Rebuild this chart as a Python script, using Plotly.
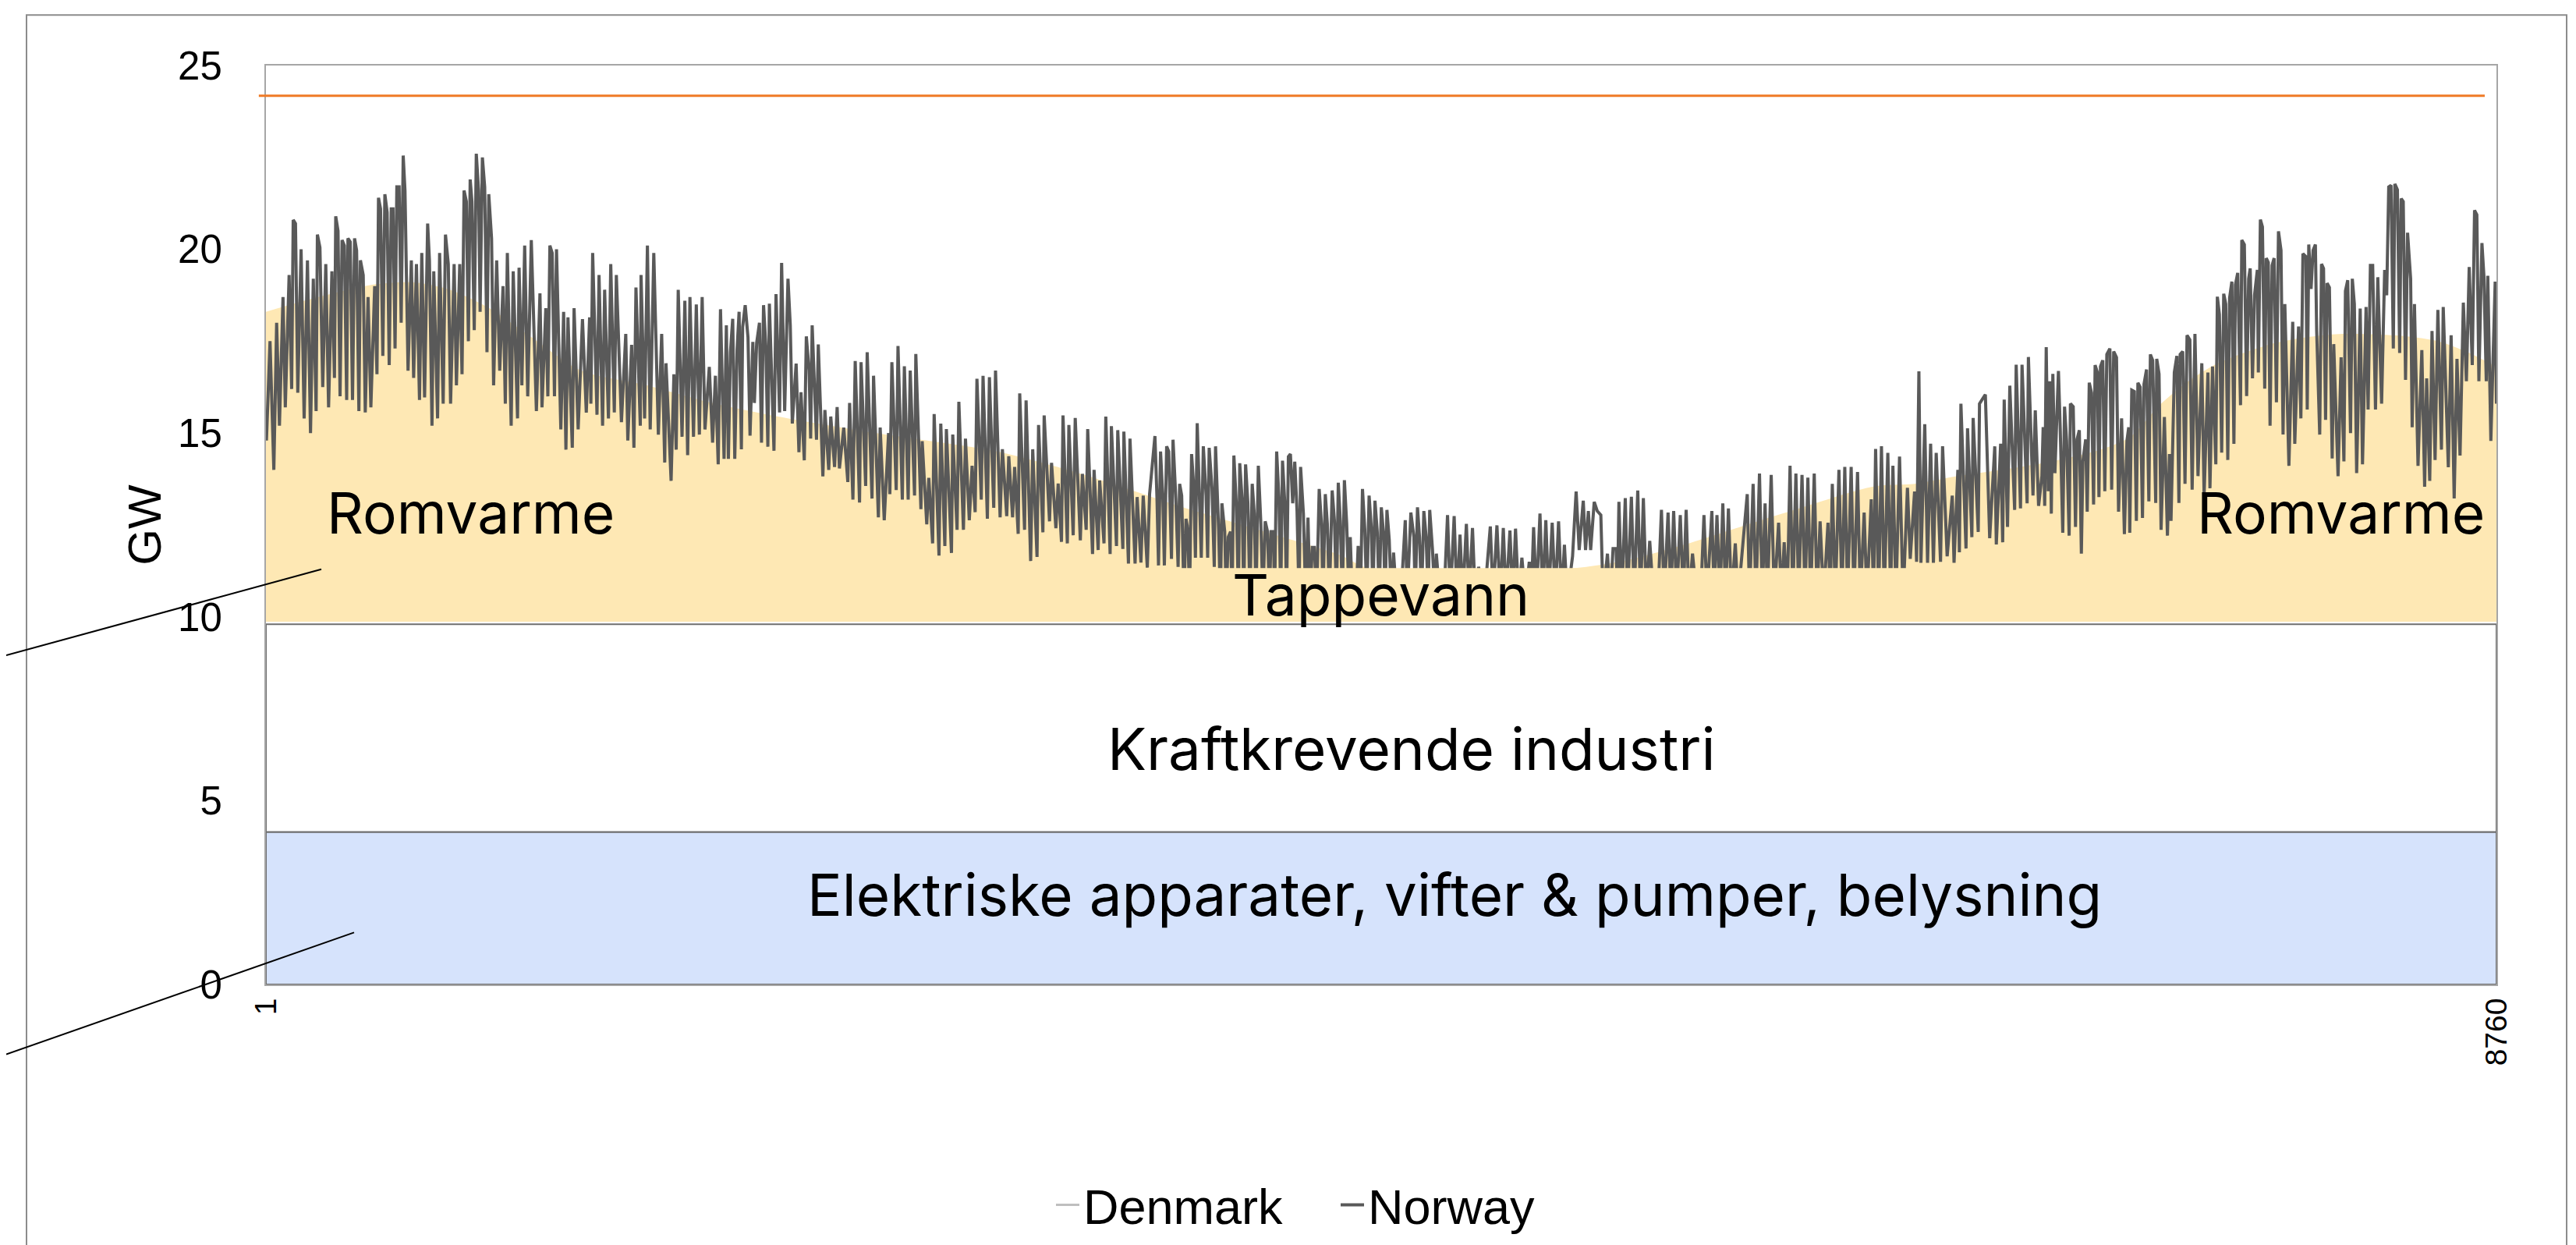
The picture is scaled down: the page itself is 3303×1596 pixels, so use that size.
import plotly.graph_objects as go

# ---------------- DATA ----------------
x_range_h = [1, 8760]
x_tick_hours = [1, 8760]
x_tick_text = ["1", "8760"]
y_range_gw = [0, 25]
y_tick_vals = [0, 5, 10, 15, 20, 25]

# stacked constant blocks (GW)
apparater_top_gw = 4.15          # Elektriske apparater, vifter & pumper, belysning
industri_top_gw = 9.8            # Kraftkrevende industri
varme_base_gw = 9.87             # bottom of heating blocks
tappevann_top_gw = 11.33         # Tappevann block top
capacity_gw = 24.18              # orange horizontal line
capacity_hours = [-27, 8714]

# Romvarme (space heating) smooth upper edge
romvarme_hours = [1, 207, 433, 582, 724, 878, 1046, 1239, 1497, 1736, 2013, 2304, 2594,
                  2871, 3175, 3439, 3594, 3787, 3994, 4220, 4329, 4700, 5142, 5342, 5568,
                  5795, 6021, 6316, 6476, 6644, 6816, 7005, 7204, 7322, 7437, 7550, 7666,
                  7896, 8126, 8359, 8530, 8647, 8760]
romvarme_top_gw = [18.3, 18.7, 19.05, 19.1, 18.9, 18.4, 17.6, 16.7, 16.3, 15.85, 15.45, 15.1,
                   14.8, 14.5, 13.95, 13.36, 13.0, 12.6, 12.17, 11.68, 11.33, 11.3, 11.33,
                   11.54, 11.96, 12.46, 12.95, 13.55, 13.62, 13.83, 14.0, 14.22, 14.55, 14.9,
                   15.76, 16.41, 16.9, 17.46, 17.69, 17.66, 17.5, 17.2, 16.8]

# Norway hourly load, read as peaks/troughs (hour, GW)
norway_hours_winter1 = [1, 3, 17, 32, 43, 54, 68, 77, 92, 102, 108, 117, 126, 139, 151, 164, 176, 187,
    198, 203, 213, 224, 236, 247, 260, 270, 275, 284, 292, 300, 309, 318, 323, 332, 341, 349, 357,
    366, 372, 383, 391, 402, 413, 428, 437, 443, 451, 460, 468, 477, 485, 493, 500, 508, 515, 524,
    532, 540, 547, 559, 572, 581, 592, 604, 613, 624, 636, 643, 653, 660, 675, 683, 697, 706, 717,
    726, 740, 749, 762, 771, 779, 788, 796, 803, 810, 819, 827, 836, 842, 851, 860, 869, 876, 887,
    895, 907, 919, 932, 941, 949, 964, 972, 989, 995, 1006, 1017, 1029, 1043, 1063, 1077, 1085,
    1100, 1108, 1116, 1125, 1134, 1142, 1159, 1170, 1179, 1187, 1204, 1211, 1227, 1244, 1259, 1272,
    1277, 1284, 1301, 1309, 1323, 1331, 1346, 1355, 1369, 1377, 1397, 1414, 1422, 1437, 1446, 1454,
    1471, 1474, 1488, 1499, 1510, 1524, 1542, 1555, 1567, 1572, 1592, 1603, 1612, 1620, 1635, 1646,
    1657, 1666, 1680, 1691, 1703, 1714, 1725, 1742]
norway_gw_winter1 = [15.5, 14.8, 17.5, 14.0, 18.0, 15.2, 18.7, 15.7, 19.3, 16.2, 20.8, 20.7, 16.1,
    20.0, 15.4, 19.7, 15.0, 19.2, 15.6, 20.4, 20.05, 16.25, 19.6, 15.7, 19.4, 16.5, 20.9, 20.5, 16.0,
    20.25, 20.1, 15.9, 20.3, 20.2, 15.9, 20.3, 19.97, 15.6, 19.7, 19.3, 15.56, 18.7, 15.7, 19.0, 16.6,
    21.4, 21.1, 17.1, 21.5, 21.0, 16.85, 21.1, 21.1, 17.3, 21.7, 21.7, 18.0, 22.55, 21.6, 16.7, 19.7,
    16.5, 19.6, 15.9, 19.9, 15.97, 20.7, 19.7, 15.2, 19.4, 15.4, 19.9, 15.8, 20.4, 19.6, 15.8, 19.6,
    16.3, 19.6, 16.6, 21.6, 21.3, 17.5, 21.9, 21.3, 17.8, 22.6, 21.6, 18.3, 22.5, 21.7, 17.2, 21.5,
    20.3, 16.3, 19.7, 16.7, 19.0, 15.8, 19.9, 15.2, 19.4, 15.4, 19.5, 16.3, 20.1, 16.0, 20.25, 15.6,
    18.8, 15.7, 18.4, 16.0, 20.1, 19.9, 16.0, 20.0, 15.1, 18.3, 14.55, 18.15, 14.6, 18.4, 15.1, 18.1,
    15.56, 18.15, 15.8, 19.9, 15.5, 19.3, 15.2, 18.9, 15.4, 19.6, 15.56, 19.3, 15.3, 17.7, 14.8, 17.4,
    14.6, 18.96, 15.2, 19.3, 15.4, 20.1, 15.1, 19.9, 14.96, 17.7, 14.2, 16.9, 13.7, 16.6, 14.55, 18.9,
    14.9, 18.6, 14.4, 18.7, 14.9, 18.5, 14.96, 18.7, 15.1, 16.8]

norway_hours_spring = [1755, 1766, 1777, 1786, 1800, 1809, 1817, 1825, 1834, 1842, 1851, 1859, 1868,
    1873, 1883, 1894, 1902, 1913, 1919, 1928, 1939, 1947, 1955, 1964, 1972, 1978, 1987, 1996, 2004,
    2018, 2026, 2038, 2051, 2060, 2068, 2083, 2094, 2102, 2115, 2123, 2134, 2140, 2146, 2157, 2163,
    2170, 2179, 2188, 2196, 2211, 2219, 2234, 2244, 2253, 2270, 2286, 2293, 2306, 2315, 2332, 2338,
    2356, 2362, 2381, 2387, 2406, 2413, 2429, 2446, 2451, 2459, 2476, 2483, 2500, 2508, 2523, 2531,
    2548, 2553, 2573, 2578, 2596, 2604, 2619, 2625, 2644, 2651, 2667, 2673, 2693, 2698, 2715, 2722,
    2740, 2748, 2763, 2774, 2786, 2793, 2810, 2817, 2834, 2842, 2859, 2866, 2884, 2893, 2910, 2918,
    2933, 2941, 2955, 2961, 2980, 2986, 3004, 3012, 3029, 3035, 3052, 3057, 3078, 3086, 3103, 3112,
    3125, 3131, 3148, 3154, 3171, 3179, 3199, 3207, 3222, 3228, 3247, 3253, 3269, 3275, 3292, 3299,
    3316, 3321, 3341, 3346, 3366, 3370, 3388, 3394, 3414, 3422, 3437, 3446, 3462, 3471]
norway_gw_spring = [14.74, 16.56, 14.15, 18.37, 14.3, 17.93, 14.3, 17.2, 18.11, 14.3, 17.26, 18.3,
    14.56, 17.89, 18.48, 17.6, 14.93, 17.48, 15.82, 17.45, 18.0, 14.74, 18.48, 17.37, 14.63, 18.52,
    16.26, 14.52, 18.78, 15.56, 19.63, 15.6, 19.2, 17.93, 15.26, 16.89, 14.48, 16.11, 14.26, 17.63,
    16.7, 14.85, 17.93, 16.22, 14.82, 17.41, 15.82, 13.82, 15.63, 14.0, 15.45, 14.08, 15.71, 14.04,
    15.15, 13.67, 15.82, 13.19, 16.96, 13.11, 16.93, 13.56, 17.2, 13.22, 16.56, 12.71, 15.15, 12.63,
    15.0, 13.34, 16.93, 13.45, 17.37, 13.19, 16.82, 13.19, 16.7, 13.3, 17.15, 12.93, 14.78, 12.52,
    13.78, 12.0, 15.52, 11.67, 15.26, 11.93, 15.11, 11.74, 14.96, 12.37, 15.85, 12.37, 14.85, 12.63,
    14.11, 12.85, 16.48, 13.19, 16.56, 12.67, 16.52, 12.97, 16.7, 12.71, 14.56, 12.74, 14.37, 12.71,
    14.08, 12.26, 16.08, 12.37, 15.89, 11.52, 14.56, 11.63, 15.22, 12.3, 15.48, 12.6, 14.19, 12.41,
    13.63, 12.04, 15.48, 12.0, 15.22, 12.22, 15.41, 12.08, 13.89, 12.37, 15.11, 11.71, 14.0, 11.82,
    13.71, 12.0, 15.45, 11.71, 15.19, 11.93, 15.08, 11.85, 15.04, 11.45, 14.85, 11.45, 13.26, 11.48,
    13.3, 11.34, 13.34]

norway_hours_summer1 = [3492, 3500, 3506, 3514, 3523, 3529, 3538, 3546, 3557, 3563, 3574, 3583, 3589,
    3597, 3606, 3614, 3621, 3628, 3636, 3644, 3651, 3658, 3667, 3674, 3682, 3693, 3699, 3705, 3716,
    3725, 3730, 3742, 3749, 3755, 3766, 3772, 3780, 3789, 3795, 3802, 3812, 3820, 3825, 3834, 3841,
    3848, 3857, 3865, 3874, 3882, 3889, 3898, 3908, 3916, 3925, 3934, 3942, 3948, 3957, 3962, 3970,
    3979, 3986, 3993, 4002, 4009, 4016, 4024, 4033, 4041, 4050, 4058, 4064, 4075, 4084, 4093, 4101,
    4110, 4118, 4127, 4137, 4146, 4152, 4161, 4169, 4177, 4188, 4197, 4205, 4212, 4220, 4228, 4236,
    4245, 4254, 4259, 4267, 4282, 4290, 4299, 4307, 4316, 4324, 4333, 4342, 4348, 4356, 4365, 4373,
    4381, 4390, 4396, 4403, 4412, 4420, 4429, 4441, 4458, 4475, 4483, 4497, 4509, 4514, 4523, 4531,
    4539, 4548, 4557, 4565, 4571, 4582, 4591, 4597, 4611, 4627, 4641, 4652, 4667, 4678, 4690, 4701,
    4715, 4726, 4739, 4750, 4763, 4786, 4809, 4820, 4835, 4848, 4860, 4871, 4886, 4897, 4908, 4920,
    4933, 4947, 4962, 4970, 4979, 4990, 5004, 5015, 5027, 5038, 5052, 5064, 5077, 5089, 5100, 5111,
    5132, 5146, 5158, 5174, 5183, 5194, 5203, 5217]
norway_gw_summer1 = [14.92, 13.23, 11.4, 14.5, 13.23, 11.4, 14.64, 14.5, 11.58, 14.82, 13.23, 11.36,
    13.62, 13.3, 10.5, 12.67, 12.39, 10.5, 14.43, 13.58, 11.61, 15.27, 13.51, 11.61, 14.64, 13.3,
    11.61, 14.6, 13.51, 11.36, 14.64, 12.39, 10.5, 13.09, 12.32, 10.5, 12.17, 12.32, 10.5, 14.39,
    13.02, 10.5, 14.18, 13.23, 10.5, 14.15, 13.09, 10.5, 13.62, 12.81, 10.5, 14.11, 12.53, 10.5,
    12.6, 12.32, 10.5, 12.32, 12.32, 10.5, 14.5, 13.23, 10.5, 14.25, 13.09, 10.5, 14.36, 14.43, 13.09,
    14.22, 12.88, 10.5, 14.08, 12.81, 10.5, 12.7, 10.5, 11.89, 11.89, 10.5, 13.48, 12.53, 10.5, 13.34,
    12.53, 10.5, 13.44, 12.6, 10.5, 13.65, 12.6, 10.5, 13.72, 12.53, 10.5, 12.17, 10.5, 10.5, 11.93,
    10.5, 13.48, 12.39, 10.5, 13.3, 12.39, 10.5, 13.16, 12.32, 10.5, 12.98, 12.24, 10.5, 12.91, 12.1,
    10.5, 11.75, 10.5, 10.5, 12.63, 10.5, 12.84, 12.17, 10.5, 12.98, 12.17, 10.5, 12.88, 12.17, 10.5,
    12.91, 11.82, 10.5, 11.72, 10.5, 10.5, 12.77, 10.5, 12.74, 10.5, 12.24, 10.5, 12.53, 10.5, 12.42,
    10.5, 11.36, 10.5, 12.46, 10.5, 12.49, 10.5, 12.42, 10.5, 12.35, 10.5, 12.4, 10.5, 11.61, 10.5,
    11.5, 10.5, 12.44, 10.5, 12.81, 10.5, 12.63, 10.5, 12.56, 10.5, 12.6, 10.5, 11.96, 10.5, 11.65,
    13.41, 11.82, 13.16, 11.82, 12.88, 11.82, 13.13]

norway_hours_summer2 = [5229, 5243, 5252, 5269, 5280, 5291, 5303, 5308, 5314, 5325, 5339, 5348, 5363,
    5374, 5388, 5399, 5410, 5422, 5435, 5450, 5467, 5481, 5492, 5507, 5518, 5529, 5541, 5555, 5567,
    5578, 5589, 5603, 5620, 5635, 5648, 5660, 5679, 5688, 5699, 5711, 5722, 5733, 5744, 5756, 5771,
    5782, 5801, 5818, 5827, 5841, 5852, 5866, 5877, 5888, 5897, 5912, 5924, 5941, 5952, 5963, 5975,
    5986, 5997, 6009, 6020, 6033, 6045, 6056, 6067, 6081, 6092, 6104, 6118, 6135, 6144, 6152, 6164,
    6178, 6190, 6201, 6212, 6226, 6237, 6251, 6262, 6277, 6288, 6305, 6314, 6322, 6334, 6345, 6356,
    6370, 6381, 6390, 6402, 6416, 6430, 6447, 6458, 6475, 6483, 6492, 6500, 6515, 6526, 6538, 6549,
    6560, 6577, 6585, 6603, 6623, 6630, 6645, 6651, 6657, 6677, 6683, 6700, 6705, 6725, 6730, 6753,
    6770, 6790, 6796, 6813, 6821, 6827, 6840, 6849, 6868, 6874, 6891, 6897, 6917, 6922, 6940, 6949,
    6962]
norway_gw_summer2 = [12.88, 12.77, 10.5, 11.72, 10.5, 11.86, 11.86, 10.5, 13.13, 10.5, 13.23, 10.5,
    13.27, 10.5, 13.44, 10.5, 13.23, 10.5, 12.07, 10.5, 10.5, 12.91, 10.5, 12.84, 10.5, 12.88, 10.5,
    12.77, 10.5, 12.91, 10.5, 11.72, 10.5, 10.5, 12.77, 10.5, 12.88, 10.5, 12.77, 10.5, 13.09, 10.5,
    12.95, 10.5, 12.0, 10.5, 11.97, 13.34, 10.5, 13.62, 10.5, 13.9, 10.5, 13.09, 10.5, 13.86, 10.5,
    12.56, 10.5, 12.03, 10.5, 14.11, 10.5, 13.9, 10.5, 13.86, 10.5, 13.79, 10.5, 13.9, 10.5, 12.6,
    10.5, 12.56, 10.5, 13.62, 10.5, 14.0, 10.5, 14.08, 10.5, 14.08, 10.5, 13.94, 10.5, 12.84, 10.5,
    13.2, 10.5, 14.57, 10.5, 14.64, 10.5, 14.46, 10.5, 14.11, 10.5, 14.36, 10.5, 13.51, 11.58, 13.41,
    11.5, 16.68, 11.47, 15.24, 11.47, 14.71, 11.47, 14.46, 11.5, 14.64, 11.65, 13.3, 11.47, 14.0,
    11.76, 15.8, 11.86, 15.13, 12.17, 15.41, 12.31, 15.8, 16.05, 12.14, 14.64, 11.97, 14.71, 12.03,
    15.91, 12.45, 16.29, 12.91, 16.86, 12.95, 16.86, 13.09, 17.07, 13.3, 15.62, 13.02]

norway_hours_winter2 = [6975, 6980, 6986, 6992, 7000, 7006, 7012, 7018, 7026, 7034, 7040, 7047, 7057,
    7064, 7072, 7082, 7087, 7098, 7107, 7113, 7122, 7130, 7136, 7147, 7153, 7161, 7170, 7178, 7184,
    7193, 7199, 7205, 7214, 7222, 7230, 7242, 7249, 7257, 7268, 7276, 7288, 7299, 7309, 7316, 7320,
    7328, 7338, 7346, 7352, 7361, 7370, 7376, 7386, 7395, 7401, 7410, 7422, 7426, 7435, 7443, 7456,
    7468, 7476, 7482, 7495, 7505, 7513, 7518, 7528, 7537, 7545, 7556, 7565, 7576, 7588, 7603, 7612,
    7627, 7635, 7645, 7658, 7664, 7672, 7681, 7689, 7697, 7705, 7712, 7721, 7729, 7735, 7744, 7755,
    7760, 7770, 7779, 7787, 7793, 7802, 7810, 7821, 7825, 7833, 7841, 7850, 7856, 7864, 7871, 7879,
    7887, 7896, 7904, 7914, 7922, 7929, 7945, 7960, 7968, 7983, 7992, 8000, 8012, 8017, 8023, 8032,
    8040, 8049, 8054, 8066, 8073, 8081, 8089, 8095, 8104, 8115, 8121, 8138, 8150, 8161, 8167, 8176,
    8187, 8194, 8202, 8211, 8225, 8234, 8248, 8256, 8265, 8274, 8285, 8294, 8309, 8321, 8329, 8337,
    8346, 8355, 8361, 8371, 8380, 8386, 8394, 8403, 8411, 8423, 8429, 8438, 8452, 8467, 8478, 8486,
    8498, 8507, 8519, 8530, 8544, 8551, 8571, 8582, 8594, 8605, 8617, 8630, 8642, 8653, 8665, 8674,
    8683, 8691, 8703, 8711, 8720, 8726, 8738, 8755, 8760]
norway_gw_winter2 = [13.83, 15.16, 13.02, 17.34, 13.42, 16.41, 12.81, 16.61, 13.91, 15.48, 16.69,
    15.12, 12.29, 15.72, 14.79, 12.21, 15.8, 15.72, 12.45, 14.83, 15.08, 11.72, 14.23, 14.83, 12.86,
    16.37, 16.09, 13.06, 16.85, 16.65, 13.26, 16.81, 16.98, 13.42, 17.14, 17.3, 13.46, 17.22, 17.06,
    12.86, 15.4, 12.25, 14.79, 15.16, 12.29, 16.17, 16.13, 12.61, 16.37, 16.25, 12.69, 16.33, 16.73,
    13.14, 17.14, 16.98, 13.1, 17.02, 16.61, 12.37, 15.44, 12.21, 14.43, 12.61, 16.65, 17.1, 13.1,
    17.14, 17.22, 13.62, 17.66, 17.54, 13.46, 17.7, 13.83, 16.9, 13.3, 16.65, 13.5, 16.81, 14.15,
    18.71, 18.23, 14.47, 18.79, 18.51, 14.27, 18.67, 19.12, 14.71, 19.04, 19.36, 15.76, 20.25, 20.13,
    16.01, 19.2, 19.48, 16.49, 18.75, 19.44, 16.65, 20.81, 20.61, 16.21, 19.76, 19.64, 15.2, 19.56,
    19.76, 15.84, 20.49, 19.97, 14.96, 18.51, 14.11, 18.03, 14.71, 17.9, 15.4, 19.88, 19.8, 15.64,
    20.13, 18.92, 19.97, 20.13, 17.78, 14.96, 19.6, 19.48, 15.36, 19.08, 18.96, 14.31, 17.42, 13.83,
    17.06, 14.23, 18.87, 19.16, 15.0, 19.2, 18.51, 13.91, 18.39, 14.15, 18.43, 15.64, 19.56, 19.56,
    15.64, 19.24, 15.8, 19.44, 18.75, 21.7, 21.74, 17.3, 21.78, 21.62, 17.18, 21.38, 21.3, 16.45,
    20.45, 19.2, 15.16, 18.51, 14.11, 17.26, 13.54, 16.49, 13.7, 17.78, 14.27, 18.35, 14.55, 18.43,
    14.07, 17.66, 13.22, 17.02, 14.39, 18.55, 16.41, 19.52, 16.85, 21.06, 20.94, 16.41, 20.17, 19.24,
    16.41, 19.28, 14.79, 19.12, 15.8]

# Denmark series: present in legend only, no visible values in the picture
denmark_hours = [None]
denmark_gw = [None]

# ---------------- FIGURE ----------------
W, H = 3303, 1596
ML, MR, MT, MB = 333, 110, 76, 336
PW, PH = W - ML - MR, H - MT - MB


def px(xp):
    return (xp - ML) / PW


def py(yp):
    return (H - MB - yp) / PH


norway_hours = (norway_hours_winter1 + norway_hours_spring + norway_hours_summer1 +
                norway_hours_summer2 + norway_hours_winter2)
norway_gw = (norway_gw_winter1 + norway_gw_spring + norway_gw_summer1 +
             norway_gw_summer2 + norway_gw_winter2)

YELLOW = "#fee8b4"
BLUE = "#d6e3fc"
LBL_FONT = "Inter"
AX_FONT = "Liberation Sans"

fig = go.Figure()

# base for Romvarme fill
fig.add_trace(go.Scatter(x=x_range_h, y=[varme_base_gw, varme_base_gw], mode="lines",
                         line=dict(width=0, color=YELLOW), showlegend=False, hoverinfo="skip"))
fig.add_trace(go.Scatter(x=romvarme_hours, y=romvarme_top_gw, mode="lines",
                         line=dict(width=0, color=YELLOW, shape="spline", smoothing=0.8),
                         fill="tonexty", fillcolor=YELLOW, showlegend=False, hoverinfo="skip"))

fig.add_trace(go.Scatter(x=denmark_hours, y=denmark_gw, mode="lines", name="Denmark",
                         line=dict(color="#bfbfbf", width=3), showlegend=True))
fig.add_trace(go.Scatter(x=norway_hours, y=norway_gw, mode="lines", name="Norway",
                         line=dict(color="#595959", width=4)))

shapes = []
shapes.append(dict(type="rect", xref="x", yref="y", x0=x_range_h[0], x1=x_range_h[1],
                   y0=0, y1=apparater_top_gw, fillcolor=BLUE,
                   line=dict(color="#6f6f6f", width=2), layer="below"))
shapes.append(dict(type="rect", xref="x", yref="y", x0=x_range_h[0], x1=x_range_h[1],
                   y0=apparater_top_gw, y1=industri_top_gw, fillcolor="white",
                   line=dict(color="#6f6f6f", width=2), layer="below"))
shapes.append(dict(type="rect", xref="x", yref="y", x0=x_range_h[0] + 8, x1=x_range_h[1] - 8,
                   y0=varme_base_gw, y1=tappevann_top_gw, fillcolor=YELLOW,
                   line=dict(width=0), layer="above"))
span = x_range_h[1] - x_range_h[0]
shapes.append(dict(type="line", xref="paper", yref="y",
                   x0=(capacity_hours[0] - x_range_h[0]) / span,
                   x1=(capacity_hours[1] - x_range_h[0]) / span,
                   y0=capacity_gw, y1=capacity_gw,
                   line=dict(color="#ef7a26", width=3), layer="above"))
shapes.append(dict(type="rect", xref="paper", yref="paper", x0=px(26), x1=px(3283),
                   y0=py(1620), y1=py(11), line=dict(color="#8c8c8c", width=2),
                   fillcolor="rgba(0,0,0,0)", layer="below"))
shapes.append(dict(type="line", xref="paper", yref="paper", x0=px(0), y0=py(836),
                   x1=px(404), y1=py(725), line=dict(color="black", width=2), layer="above"))
shapes.append(dict(type="line", xref="paper", yref="paper", x0=px(0), y0=py(1350),
                   x1=px(446), y1=py(1193), line=dict(color="black", width=2), layer="above"))


def lbl(size):
    return dict(family=LBL_FONT, size=size, color="black")


annotations = [
    dict(x=806, y=12.83, xref="x", yref="y", text="Romvarme", showarrow=False, font=lbl(73)),
    dict(x=8150, y=12.83, xref="x", yref="y", text="Romvarme", showarrow=False, font=lbl(73)),
    dict(x=4380, y=10.6, xref="x", yref="y", text="Tappevann", showarrow=False, font=lbl(73)),
    dict(x=4500, y=6.4, xref="x", yref="y", text="Kraftkrevende industri", showarrow=False,
         font=lbl(74.5)),
    dict(x=4668, y=2.45, xref="x", yref="y",
         text="Elektriske apparater, vifter &amp; pumper, belysning", showarrow=False,
         font=lbl(74.5)),
]

fig.update_layout(
    width=W, height=H, autosize=False,
    margin=dict(l=ML, r=MR, t=MT, b=MB, pad=0),
    paper_bgcolor="white", plot_bgcolor="white",
    shapes=shapes, annotations=annotations,
    showlegend=True,
    legend=dict(orientation="h", x=px(1706), xanchor="center", y=py(1544), yanchor="middle",
                font=dict(family=AX_FONT, size=63, color="black"), bgcolor="rgba(0,0,0,0)",
                itemwidth=30, traceorder="normal", entrywidth=320, entrywidthmode="pixels"),
    hovermode=False,
)
fig.update_xaxes(range=x_range_h, tickvals=x_tick_hours, ticktext=x_tick_text, tickangle=-90,
                 tickfont=dict(family=AX_FONT, size=39, color="black"), showgrid=False,
                 zeroline=False, showline=True, linecolor="#a6a6a6", linewidth=2, mirror=True,
                 ticks="", automargin=False)
fig.update_yaxes(range=y_range_gw, tickvals=y_tick_vals,
                 tickfont=dict(family=AX_FONT, size=51, color="black"), showgrid=False,
                 zeroline=False, showline=True, linecolor="#a6a6a6", linewidth=2, mirror=True,
                 ticks="", ticklabelstandoff=44, automargin=False,
                 title=dict(text="GW", font=dict(family=AX_FONT, size=60, color="black"),
                            standoff=2))

fig.write_html("out.html")
